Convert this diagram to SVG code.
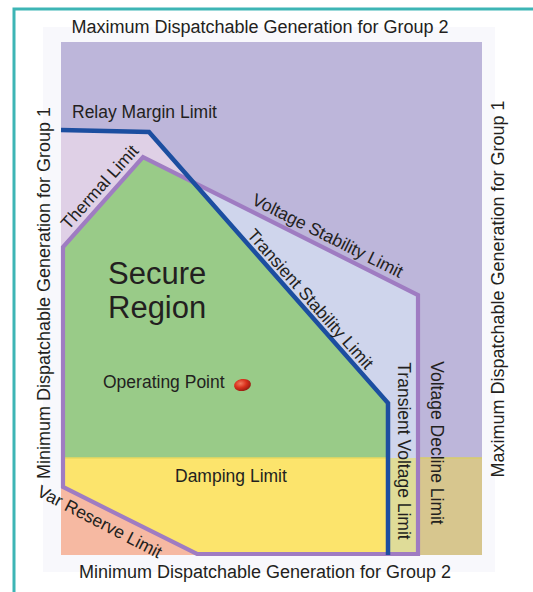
<svg xmlns="http://www.w3.org/2000/svg" width="533" height="592" viewBox="0 0 533 592">
<defs>
<style>
.t{font-family:"Liberation Sans",Arial,sans-serif;fill:#231f20;}
.ax{font-size:18px;}
.lb{font-size:17.5px;}
.big{font-size:31px;}
.pl{fill:none;stroke:#9f7cc2;stroke-width:4.2;stroke-linejoin:miter;}
.bl{fill:none;stroke:#1c4ea0;stroke-width:4.5;stroke-linejoin:miter;}
</style>
<radialGradient id="dot" cx="0.4" cy="0.35" r="0.7">
<stop offset="0" stop-color="#f27a5e"/>
<stop offset="0.5" stop-color="#d9301c"/>
<stop offset="1" stop-color="#8e1a10"/>
</radialGradient>
</defs>
<rect width="533" height="592" fill="#ffffff"/>
<g id="frame">
<path d="M14,592 V9 H540" fill="none" stroke="#3db5b5" stroke-width="3"/>
<rect x="43" y="27" width="452" height="545" fill="#f8f8fc"/>
</g>
<g id="regions">
<rect id="outside" x="61" y="42" width="421" height="513" fill="#bdb6da"/>
<polygon id="margin-band" points="143,157 418,295 418,555 61,555 61,247" fill="#cfd5ec"/>
<polygon id="thermal-band" points="61,130 149,132 192,182 143,157 61,248" fill="#dfd0e6"/>
<polygon id="secure" points="63,247 143,157 192,182 388,403 388,458 63,458" fill="#99cb88"/>
<polygon id="damping" points="63,458 388,458 388,555 197,555 63,487" fill="#fce46c"/>
<polygon id="var-reserve" points="61,487 197,555 61,555" fill="#f6b9a2"/>
<rect id="tv-band" x="388" y="458" width="30" height="97" fill="#dfdc98"/>
<rect id="vd-band" x="418" y="458" width="64" height="97" fill="#d7c68e"/>
<line x1="63" y1="458" x2="388" y2="458" stroke="#ead85e" stroke-width="1.5"/>
<line x1="418" y1="458" x2="482" y2="458" stroke="#d8cc6a" stroke-width="1.5"/>
</g>
<g id="connectors">
<polygon class="pl" points="63,487 63,247 143,157 418,295 418,554 197,554"/>
<polyline class="bl" points="61,130 149,132 388,403 388,555"/>
</g>
<g id="operating-point">
<ellipse cx="242.5" cy="385" rx="8.5" ry="6" fill="url(#dot)" transform="rotate(-10 242.5 385)"/>
<text class="t lb" x="103" y="388">Operating Point</text>
</g>
<g id="labels">
<text class="t ax" x="260" y="33" text-anchor="middle">Maximum Dispatchable Generation for Group 2</text>
<text class="t ax" x="265" y="578" text-anchor="middle">Minimum Dispatchable Generation for Group 2</text>
<text class="t ax" text-anchor="middle" transform="translate(50,293) rotate(-90)">Minimum Dispatchable Generation for Group 1</text>
<text class="t ax" text-anchor="middle" transform="translate(504,289) rotate(-90)">Maximum Dispatchable Generation for Group 1</text>
<text class="t lb" x="72" y="118">Relay Margin Limit</text>
<text class="t lb" text-anchor="middle" transform="translate(104,191) rotate(-48)">Thermal Limit</text>
<text class="t lb" text-anchor="middle" transform="translate(325,241) rotate(26.6)">Voltage Stability Limit</text>
<text class="t lb" text-anchor="middle" transform="translate(306,303) rotate(48.5)">Transient Stability Limit</text>
<text class="t lb" text-anchor="middle" transform="translate(398,451) rotate(90)">Transient Voltage Limit</text>
<text class="t lb" text-anchor="middle" transform="translate(431,443) rotate(90)">Voltage Decline Limit</text>
<text class="t lb" x="175" y="482">Damping Limit</text>
<text class="t lb" text-anchor="middle" transform="translate(97,527) rotate(27.4)">Var Reserve Limit</text>
<text class="t big" x="108" y="284">Secure</text>
<text class="t big" x="108" y="318">Region</text>
</g>
</svg>
